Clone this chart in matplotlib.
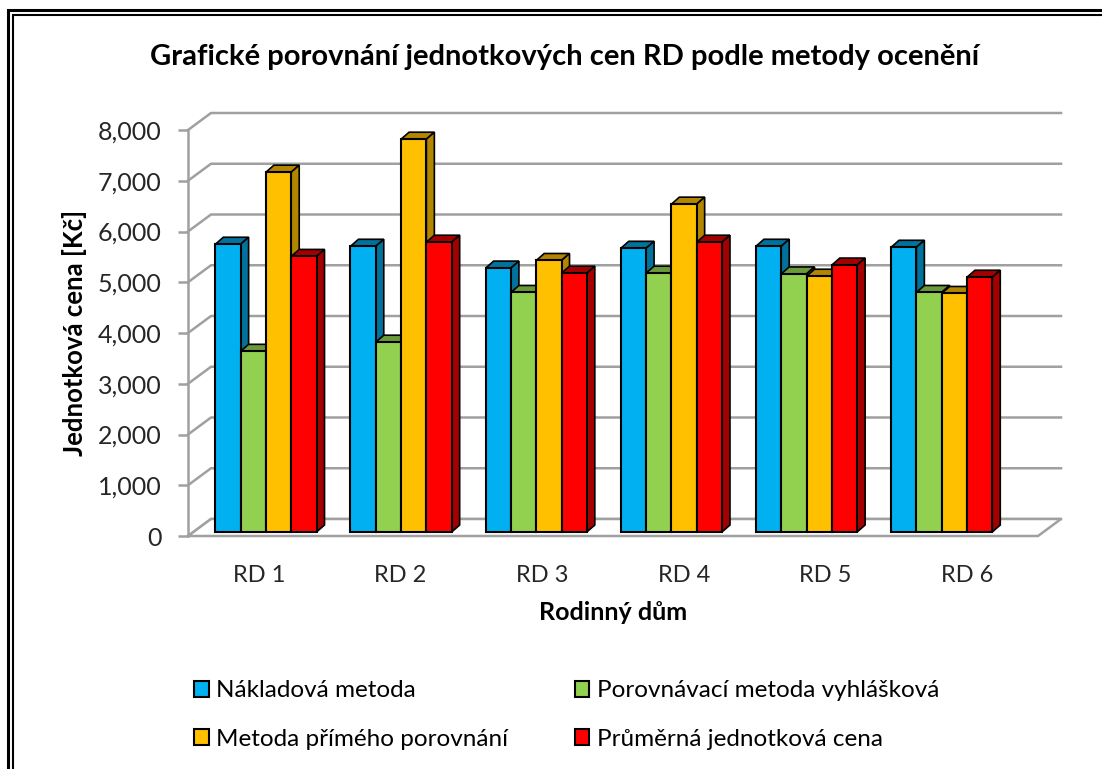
import matplotlib.pyplot as plt
from matplotlib.patches import Polygon, Rectangle, Patch
from matplotlib.ticker import FuncFormatter
import numpy as np

plt.rcParams['font.family'] = ['Lato', 'DejaVu Sans']

# data
houses = ["RD 1", "RD 2", "RD 3", "RD 4", "RD 5", "RD 6"]
series_names = ["Nákladová metoda", "Porovnávací metoda vyhlášková",
                "Metoda přímého porovnání", "Průměrná jednotková cena"]
nakladova = [5670, 5630, 5200, 5590, 5630, 5610]
porovnavaci = [3560, 3740, 4720, 5100, 5085, 4720]
prime_porovnani = [7090, 7740, 5350, 6460, 5040, 4700]
prumerna = [5430, 5710, 5100, 5710, 5260, 5020]
series_values = [nakladova, porovnavaci, prime_porovnani, prumerna]

front_colors = ["#00B0F0", "#92D050", "#FFC000", "#FF0000"]
dark_colors = ["#00729C", "#6A9A3A", "#B38600", "#A50000"]

fig = plt.figure(figsize=(11.02, 7.69), dpi=100)
W, H = 1102, 769

# axes placed so that front plane spans px 188..1038 and 536..130
ax = fig.add_axes([188 / W, 1 - 536 / H, 850 / W, 406 / H])
x0, x1 = -0.5, len(houses) - 0.5
ax.set_xlim(x0, x1)
ax.set_ylim(0, 8000)

# oblique depth of the floor / back wall (in data units)
px_x = (x1 - x0) / 850
px_y = 8000 / 406
wall_dx, wall_dy = 23 * px_x, 17 * px_y
grid_col = "#A0A0A0"

# back wall gridlines and side-wall diagonals
for v in range(0, 8001, 1000):
    ax.plot([x0, x0 + wall_dx, x1 + wall_dx], [v, v + wall_dy, v + wall_dy],
            color=grid_col, lw=1.8, zorder=1, clip_on=False)
# floor
ax.add_patch(Polygon([(x0, 0), (x1, 0), (x1 + wall_dx, wall_dy), (x0 + wall_dx, wall_dy)],
                     closed=True, facecolor="white", edgecolor=grid_col, lw=1.8,
                     zorder=1.5, clip_on=False))

# bars
bar_w = 25.3 * px_x
bar_dx, bar_dy = 8 * px_x, 7 * px_y
base = 4 * px_y
group_step = 0.954
group_shift = 0.05
for i in range(len(houses)):
    gc = group_shift + group_step * i
    for j, vals in enumerate(series_values):
        xl = gc - 2 * bar_w + j * bar_w
        xr = xl + bar_w
        top = base + vals[i]
        z = 3 + j * 0.1
        ax.bar(xl, vals[i], width=bar_w, bottom=base, align='edge',
               color=front_colors[j], edgecolor="black", lw=1.5, zorder=z + 0.05,
               clip_on=False)
        ax.add_patch(Polygon([(xl, top), (xr, top), (xr + bar_dx, top + bar_dy),
                              (xl + bar_dx, top + bar_dy)], closed=True,
                             facecolor=dark_colors[j], edgecolor="black", lw=1.2,
                             zorder=z, clip_on=False))
        ax.add_patch(Polygon([(xr, base), (xr + bar_dx, base + bar_dy),
                              (xr + bar_dx, top + bar_dy), (xr, top)], closed=True,
                             facecolor=dark_colors[j], edgecolor="black", lw=1.2,
                             zorder=z, clip_on=False))

for s in ["top", "right", "bottom"]:
    ax.spines[s].set_visible(False)
ax.spines["left"].set_color(grid_col)
ax.spines["left"].set_linewidth(1.8)
ax.set_yticks(range(0, 8001, 1000))
ax.yaxis.set_major_formatter(FuncFormatter(lambda v, p: f"{int(v):,}"))
ax.tick_params(axis="y", colors=grid_col, length=7, width=1.8, labelcolor="#262626",
               labelsize=18, pad=12)
ax.set_xticks(range(len(houses)))
ax.set_xticklabels(houses)
ax.tick_params(axis="x", length=0, labelsize=17, labelcolor="#262626", pad=21)
ax.set_facecolor("none")

ax.set_ylabel("Jednotková cena [Kč]", fontsize=18.5, fontweight="bold", labelpad=8)
ax.set_xlabel("Rodinný dům", fontsize=18, fontweight="bold", labelpad=11)
fig.text(0.512, 1 - 57 / H, "Grafické porovnání jednotkových cen RD podle metody ocenění",
         ha="center", va="center", fontsize=21, fontweight="bold")

# legend, row-wise order
order = [0, 2, 1, 3]
handles = [Patch(facecolor=front_colors[k], edgecolor="black", lw=1.5) for k in order]
labels = [series_names[k] for k in order]
fig.legend(handles, labels, ncol=2, loc="center", bbox_to_anchor=(0.514, 1 - 715 / H),
           frameon=False, fontsize=17.5, handlelength=0.6, handleheight=0.6,
           handletextpad=0.3, columnspacing=2.75, labelspacing=1.12)

# double frame around the chart area
fig.add_artist(Rectangle((8 / W, -0.1), 1.2, 1 - 10 / H + 0.1, transform=fig.transFigure,
                         fill=False, edgecolor="black", lw=2.2))
fig.add_artist(Rectangle((13 / W, -0.1), 1.2, 1 - 15 / H + 0.1, transform=fig.transFigure,
                         fill=False, edgecolor="black", lw=1.5))

fig.savefig("out.png", dpi=100)
